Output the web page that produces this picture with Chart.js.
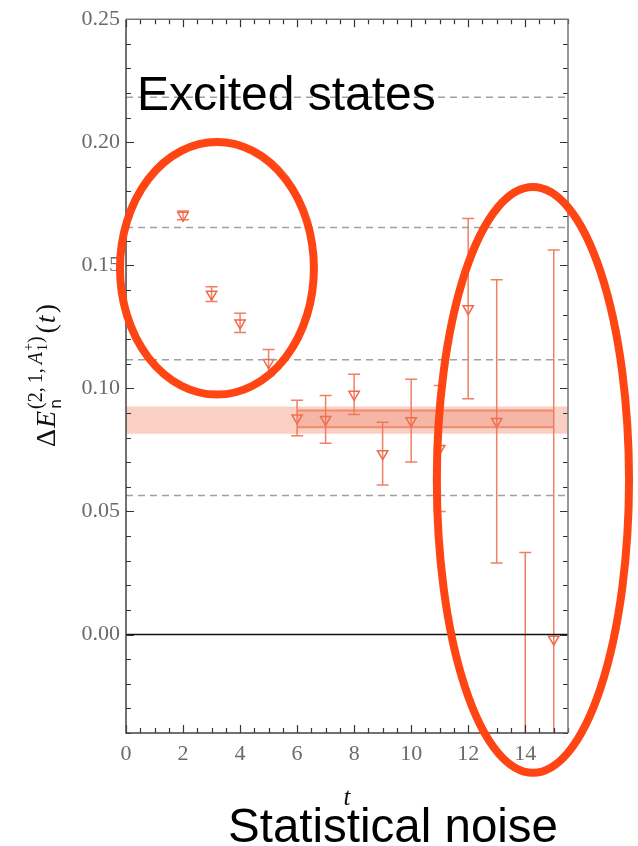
<!DOCTYPE html>
<html>
<head>
<meta charset="utf-8">
<script src="https://cdn.jsdelivr.net/npm/chart.js@4.4.1/dist/chart.umd.min.js"></script>
<style>
html,body{margin:0;padding:0;background:#fff;}
#wrap{width:638px;height:846px;position:relative;}
</style>
</head>
<body>
<div id="wrap"><canvas id="c"></canvas></div>
<script>
// ---- data ----
const tValues      = [2, 3, 4, 5, 6, 7, 8, 9, 10, 11, 12, 13, 14, 15];
const energyValues = [0.1703, 0.1383, 0.1266, 0.1105, 0.0880, 0.0874, 0.0976, 0.0735, 0.0869, 0.0756, 0.1324, 0.0866, -0.0500, -0.0019];
const energyErrors = [0.0018, 0.0030, 0.0039, 0.0053, 0.0072, 0.0097, 0.0082, 0.0127, 0.0168, 0.0256, 0.0366, 0.0575, 0.0833, 0.1581];

const outerBand = [0.0816, 0.0926];          // [low, high], full t range
const innerBand = [0.0842, 0.0910];          // [low, high]
const innerBandRange = [6, 15];              // t range of the fit window
const thresholdLevels = [0.2183, 0.1654, 0.1116, 0.0565];

const xTickValues = [0, 2, 4, 6, 8, 10, 12, 14];
const yTickValues = [0.00, 0.05, 0.10, 0.15, 0.20, 0.25];
const xRange = [0, 15.5];
const yRange = [-0.04, 0.25];

// annotation ellipses in data coordinates: [t centre, value centre, t radius, value radius]
const ellipseExcited = [3.19, 0.1488, 3.40, 0.0513];
const ellipseNoise   = [14.27, 0.0628, 3.37, 0.1190];

// ---- colours ----
const pointColor = '#ee6a48';
const errColor = 'rgba(236,104,74,0.85)';

const lineSpan = (v, a, b) => [{x: a, y: v}, {x: b, y: v}];

const datasets = [
  {type:'line', data: lineSpan(outerBand[0], xRange[0], xRange[1]), borderWidth:0, pointRadius:0, fill:false},
  {type:'line', data: lineSpan(outerBand[1], xRange[0], xRange[1]), borderWidth:0, pointRadius:0, fill:'-1',
   backgroundColor:'rgba(240,120,90,0.35)'},
  {type:'line', data: lineSpan(innerBand[0], innerBandRange[0], innerBandRange[1]), borderWidth:2, borderColor:'rgba(234,118,88,0.75)', pointRadius:0, fill:false},
  {type:'line', data: lineSpan(innerBand[1], innerBandRange[0], innerBandRange[1]), borderWidth:2, borderColor:'rgba(234,118,88,0.75)', pointRadius:0, fill:'-1',
   backgroundColor:'rgba(235,110,80,0.28)'},
];
thresholdLevels.forEach(v => datasets.push({type:'line', data: lineSpan(v, xRange[0], xRange[1]), borderWidth:1.5,
  borderColor:'#a0a0a0', borderDash:[7,5], pointRadius:0, fill:false}));
datasets.push({type:'line', data: lineSpan(0, xRange[0], xRange[1]), borderWidth:1.5, borderColor:'#111', pointRadius:0, fill:false});
const scatterIndex = datasets.length;
datasets.push({type:'scatter', data: tValues.map((t,i)=>({x:t, y:energyValues[i]})),
  pointStyle:'triangle', rotation:180, pointRadius:6, pointBorderWidth:1.5,
  pointBorderColor:pointColor, pointBackgroundColor:'rgba(0,0,0,0)', showLine:false});

const errorBarPlugin = {
  id:'errorBars',
  beforeDatasetDraw(chart, args){
    if (args.index !== scatterIndex) return;
    const ys = chart.scales.y, xs = chart.scales.x, ctx = chart.ctx, a = chart.chartArea;
    ctx.save();
    ctx.beginPath(); ctx.rect(a.left, a.top, a.right-a.left, a.bottom-a.top); ctx.clip();
    ctx.strokeStyle = errColor; ctx.lineWidth = 1.5;
    tValues.forEach((t,i)=>{
      const x = xs.getPixelForValue(t);
      const y1 = ys.getPixelForValue(energyValues[i]+energyErrors[i]);
      const y2 = ys.getPixelForValue(energyValues[i]-energyErrors[i]);
      ctx.beginPath();
      ctx.moveTo(x,y1); ctx.lineTo(x,y2);
      ctx.moveTo(x-6,y1); ctx.lineTo(x+6,y1);
      ctx.moveTo(x-6,y2); ctx.lineTo(x+6,y2);
      ctx.stroke();
    });
    ctx.restore();
  }
};

const framePlugin = {
  id:'frame',
  afterDatasetsDraw(chart){
    const ctx = chart.ctx, a = chart.chartArea, xs = chart.scales.x, ys = chart.scales.y;
    ctx.save();
    ctx.strokeStyle = '#333'; ctx.lineWidth = 1.2;
    for (let k = -4; k <= 25; k++) {
      const v = k/100, y = Math.round(ys.getPixelForValue(v)) + 0.5;
      const len = (k % 5 === 0) ? 8 : 5;
      ctx.beginPath();
      ctx.moveTo(a.left, y); ctx.lineTo(a.left+len, y);
      ctx.moveTo(a.right, y); ctx.lineTo(a.right-len, y);
      ctx.stroke();
    }
    for (let k = 0; k <= 31; k++) {
      const v = k/2, x = Math.round(xs.getPixelForValue(v)) + 0.5;
      const len = (k % 4 === 0) ? 8 : 5;
      ctx.beginPath();
      ctx.moveTo(x, a.bottom); ctx.lineTo(x, a.bottom-len);
      ctx.moveTo(x, a.top); ctx.lineTo(x, a.top+len);
      ctx.stroke();
    }
    ctx.lineWidth = 1.5;
    ctx.strokeStyle = '#444';
    ctx.beginPath(); ctx.moveTo(a.left, a.top); ctx.lineTo(a.left, a.bottom); ctx.lineTo(a.right, a.bottom); ctx.stroke();
    ctx.strokeStyle = '#777';
    ctx.beginPath(); ctx.moveTo(a.left, a.top); ctx.lineTo(a.right, a.top); ctx.lineTo(a.right, a.bottom); ctx.stroke();
    ctx.restore();
  }
};

function drawRuns(ctx, runs, x, y){
  for (const r of runs){
    if (r.stack){
      let w = 0;
      for (const s of r.stack){
        ctx.font = s.font; ctx.fillText(s.text, x, y + s.dy);
        w = Math.max(w, ctx.measureText(s.text).width);
      }
      x += w + (r.gap||0);
    } else {
      ctx.font = r.font; ctx.fillText(r.text, x, y + (r.dy||0));
      x += ctx.measureText(r.text).width + (r.gap||0);
    }
  }
  return x;
}

const labelsPlugin = {
  id:'labels',
  afterDraw(chart){
    const ctx = chart.ctx, a = chart.chartArea, xs = chart.scales.x, ys = chart.scales.y;
    ctx.save();
    ctx.fillStyle = '#111'; ctx.textBaseline = 'alphabetic'; ctx.textAlign = 'left';
    // y-axis title (rotated, with sub/superscripts)
    ctx.save();
    ctx.translate(55, 447);
    ctx.rotate(-Math.PI/2);
    const F = 'Liberation Serif';
    let x0 = drawRuns(ctx, [
      {text:'\u0394', font:`28px "${F}"`, gap:1},
      {text:'E', font:`italic 28px "${F}"`, gap:2},
    ], 0, 0);
    ctx.font = '16px "DejaVu Sans"'; ctx.fillText('n', x0, 6);
    let x1 = drawRuns(ctx, [
      {text:'(2,\u20091,\u2009', font:`20px "${F}"`, dy:-13},
      {text:'A', font:`italic 20px "${F}"`, dy:-13, gap:1},
      {stack:[{text:'+', font:`14px "${F}"`, dy:-22},{text:'1', font:`14px "${F}"`, dy:-8}]},
      {text:')', font:`20px "${F}"`, dy:-13, gap:3},
    ], x0, 0);
    drawRuns(ctx, [
      {text:'(', font:`28px "${F}"`, gap:1},
      {text:'t', font:`italic 28px "${F}"`, gap:2},
      {text:')', font:`28px "${F}"`},
    ], x1, 0);
    ctx.restore();
    // x-axis title
    ctx.textAlign = 'center';
    ctx.font = `italic 25px "${F}"`;
    ctx.fillText('t', (a.left+a.right)/2, 805);
    // annotation ellipses
    ctx.strokeStyle = '#ff4513'; ctx.lineWidth = 8;
    [ellipseExcited, ellipseNoise].forEach(e=>{
      const cx = xs.getPixelForValue(e[0]), cy = ys.getPixelForValue(e[1]);
      const rx = xs.getPixelForValue(e[0]+e[2]) - cx;
      const ry = cy - ys.getPixelForValue(e[1]+e[3]);
      ctx.beginPath(); ctx.ellipse(cx, cy, rx, ry, 0, 0, Math.PI*2); ctx.stroke();
    });
    // annotation texts
    ctx.fillStyle = '#000'; ctx.textAlign = 'left';
    ctx.font = '48px "Liberation Sans"';
    ctx.fillText('Excited states', 137, 110);
    ctx.font = '47.5px "Liberation Sans"';
    ctx.fillText('Statistical noise', 228, 842);
    ctx.restore();
  }
};

new Chart(document.getElementById('c'), {
  type:'scatter',
  data:{datasets},
  options:{
    responsive:true, maintainAspectRatio:false, animation:false,
    layout:{padding:{top:18, right:70, left:0, bottom:0}},
    plugins:{legend:{display:false}, tooltip:{enabled:false}},
    scales:{
      x:{type:'linear', min:xRange[0], max:xRange[1],
         grid:{display:false, drawTicks:false}, border:{display:false},
         afterBuildTicks: s => { s.ticks = xTickValues.map(v=>({value:v})); },
         afterFit: s => { s.height = 113; },
         ticks:{padding:8, color:'#6a6a6a', font:{family:'Liberation Serif', size:22}, callback:v=>String(v), maxRotation:0, autoSkip:false}},
      y:{type:'linear', min:yRange[0], max:yRange[1],
         grid:{display:false, drawTicks:false}, border:{display:false},
         afterBuildTicks: s => { s.ticks = yTickValues.map(v=>({value:v})); },
         afterFit: s => { s.width = 126; },
         ticks:{padding:6, color:'#6a6a6a', font:{family:'Liberation Serif', size:22}, callback:v=>Number(v).toFixed(2), autoSkip:false}}
    }
  },
  plugins:[errorBarPlugin, framePlugin, labelsPlugin]
});
</script>
</body>
</html>
